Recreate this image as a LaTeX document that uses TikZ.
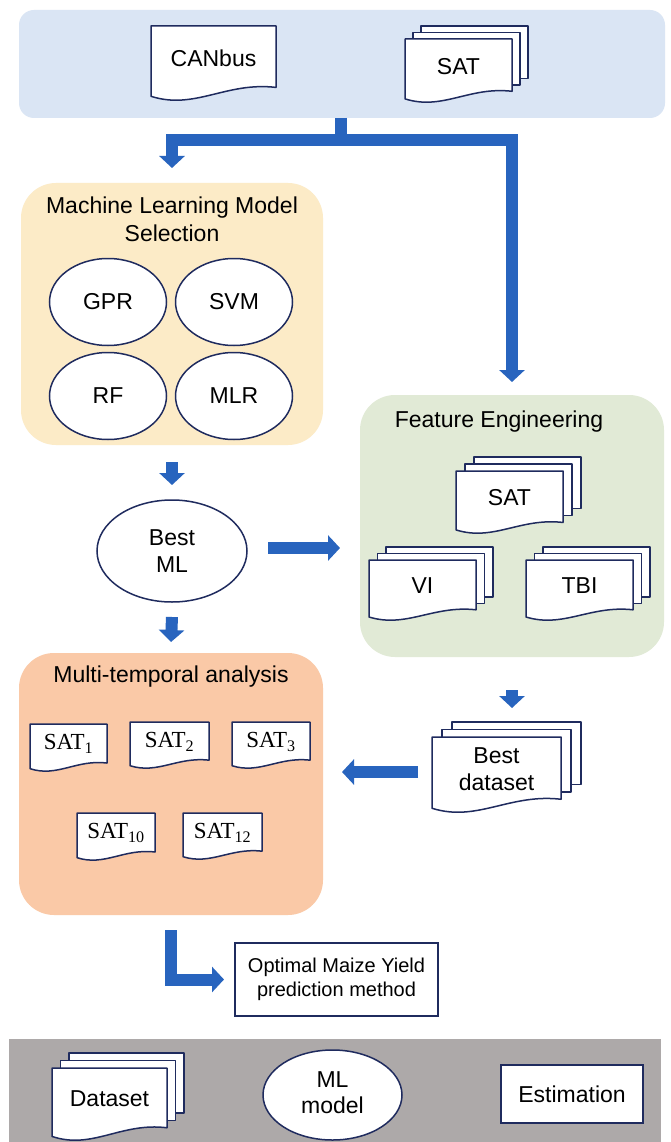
\documentclass[tikz,border=0pt]{standalone}
\usepackage{fontspec}
\setmainfont{Liberation Sans}
\newfontfamily\seriffont{Liberation Serif}
\usetikzlibrary{arrows.meta,shapes.geometric,calc}
\definecolor{topblue}{RGB}{218,229,244}
\definecolor{mlyellow}{RGB}{252,235,199}
\definecolor{fegreen}{RGB}{225,234,214}
\definecolor{mtpeach}{RGB}{250,201,167}
\definecolor{botgrey}{RGB}{173,169,169}
\definecolor{navy}{RGB}{31,43,94}
\definecolor{arrowblue}{RGB}{40,100,190}

\newcommand{\docshape}[4]{%
  \draw[doc] (#1,#2) -- (#3,#2) -- (#3,{#4-0.17*(#4-#2)})
    .. controls ({#1+0.6*(#3-#1)},{#4-0.25*(#4-#2)}) and ({#1+0.35*(#3-#1)},{#4+0.14*(#4-#2)}) .. (#1,{#4-0.05*(#4-#2)}) -- cycle;}
\newcommand{\docnode}[6]{%
  \docshape{#2}{#3}{#4}{#5}
  \node[inner sep=0pt, outer sep=0pt, minimum width={(#4-#2)*1pt}, minimum height={(#5-#3)*1pt}] (#1) at ({(#2+#4)/2},{(#3+#5)/2}) {};
  \node[lbl] (#1-t) at ({(#2+#4)/2},{(#3+#5)/2-0.07*(#5-#3)}) {#6};}
\newcommand{\stacknode}[8]{%
  \foreach \k in {2,1}{\draw[doc] ({#2+\k*#6},{#3-\k*#7}) rectangle ({#4+\k*#6},{#5-0.17*(#5-#3)-\k*#7});}
  \docnode{#1}{#2}{#3}{#4}{#5}{#8}}
\newcommand{\satsub}[1]{{\seriffont SAT\textsubscript{#1}}}

\begin{document}
\begin{tikzpicture}[x=1pt,y=-1pt,
  lbl/.style={font=\fontsize{23}{27}\selectfont, inner sep=0pt, align=center, text=black},
  doc/.style={draw=navy, fill=white, line width=1.5pt, line join=round},
  ell/.style={ellipse, draw=navy, fill=white, line width=1.5pt, inner sep=0pt, outer sep=0pt},
  panel/.style={inner sep=0pt, outer sep=0pt, draw=none},
  boxnode/.style={draw=navy, fill=white, line width=1.8pt, inner sep=0pt, outer sep=0pt, align=center},
  blkline/.style={draw=arrowblue, line width=12pt},
  blk/.style={draw=arrowblue, line width=12pt, line join=miter, -{Triangle[width=25pt,length=12pt]}}]

\fill[white] (0,0) rectangle (671,1142);
\useasboundingbox (0,0) rectangle (671,1142);

% panels
\node[panel, fill=topblue, rounded corners=15pt, minimum width=646pt, minimum height=108pt] (top) at (342,64) {};
\node[panel, fill=mlyellow, rounded corners=35pt, minimum width=302pt, minimum height=262pt] (ml) at (172,314) {};
\node[panel, fill=fegreen, rounded corners=35pt, minimum width=304pt, minimum height=262pt] (fe) at (512,526) {};
\node[panel, fill=mtpeach, rounded corners=35pt, minimum width=304pt, minimum height=262pt] (mt) at (171,784) {};
\node[panel, fill=botgrey, minimum width=652pt, minimum height=104pt, anchor=north west] (legend) at (9,1039) {};

% top panel content
\docnode{canbus}{151}{26}{276}{100}{CANbus}
\stacknode{sattop}{405}{39}{512}{102}{8}{6.5}{SAT}

% ML selection
\node[lbl, font=\fontsize{23}{28}\selectfont] (mltitle) at (172,219) {Machine Learning Model\\Selection};
\node[ell, minimum width=117pt, minimum height=87pt, lbl] (gpr) at (108,302) {GPR};
\node[ell, minimum width=117pt, minimum height=87pt, lbl] (svm) at (234,302) {SVM};
\node[ell, minimum width=117pt, minimum height=87pt, lbl] (rf) at (108,396) {RF};
\node[ell, minimum width=117pt, minimum height=87pt, lbl] (mlr) at (234,396) {MLR};

% Best ML
\node[ell, minimum width=150pt, minimum height=102pt, lbl] (bestml) at (172,551) {Best\\ML};

% Feature engineering
\node[lbl] (fetitle) at (499,422) {Feature Engineering};
\stacknode{satfe}{456}{471}{563}{533}{9}{7}{SAT}
\stacknode{vi}{369}{560}{476}{620}{8.5}{6.5}{VI}
\stacknode{tbi}{526}{560}{633}{620}{8.5}{6.5}{TBI}

% Best dataset
\stacknode{bestds}{432}{737}{561}{812}{10}{7.5}{Best\\dataset}

% Multi-temporal
\node[lbl] (mttitle) at (171,677) {Multi-temporal analysis};
\docnode{sat1}{30}{724}{107}{771}{\satsub{1}}
\docnode{sat2}{130}{722}{209}{768}{\satsub{2}}
\docnode{sat3}{232}{722}{310}{768}{\satsub{3}}
\docnode{sat10}{77}{813}{155}{860}{\satsub{10}}
\docnode{sat12}{183}{813}{262}{859}{\satsub{12}}

% Optimal
\node[boxnode, minimum width=203pt, minimum height=73pt, font=\fontsize{20}{24}\selectfont] (opt) at (336.5,979.5) {Optimal Maize Yield\\prediction method};

% legend
\stacknode{dataset}{52}{1068}{167}{1140}{8.5}{7.5}{Dataset}
\node[ell, minimum width=139pt, minimum height=90pt] (mlmodel) at (332.5,1095) {};
\node[lbl, font=\fontsize{23}{26}\selectfont] (mlmodel-t) at (332.5,1093) {ML\\model};
\node[boxnode, minimum width=142pt, minimum height=58pt, lbl] (est) at (572,1094) {Estimation};

% arrows
\coordinate (split) at (341,140);
\draw[blkline] (top.south -| split) -- ([yshift=-6pt]split);
\draw[blk] (split) -| ([yshift=15pt]ml.north);
\draw[blk] (split) -| ([yshift=13pt]fe.north);
\draw[blk] ([yshift=-17pt]ml.south) -- ([yshift=15pt]bestml.north);
\draw[blk] ([yshift=-15pt]bestml.south) -- ([yshift=11pt]mt.north);
\draw[blk] ([xshift=21pt]bestml.east |- 0,548) -- ([xshift=-20pt]fe.west |- 0,548);
\draw[blk] ([yshift=-33pt]fe.south) -- ([yshift=29pt]fe.south |- bestds.north);
\draw[blk] ([xshift=-14pt]bestds.west |- 0,772) -- ([xshift=19pt]mt.east |- 0,772);
\draw[blk] ([yshift=-15pt]mt.south) |- ([xshift=-11pt]opt.west);
\end{tikzpicture}
\end{document}
